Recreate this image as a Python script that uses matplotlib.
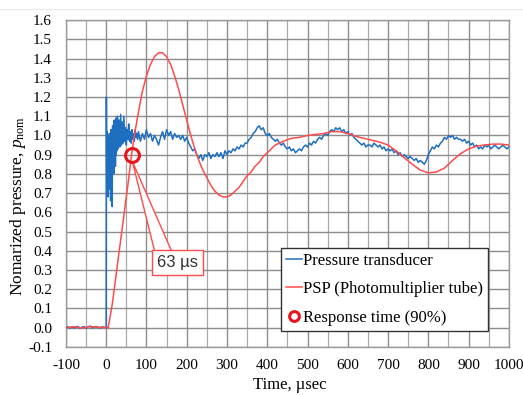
import numpy as np
import matplotlib
matplotlib.use('Agg')
import matplotlib.pyplot as plt
from matplotlib.lines import Line2D
from matplotlib.patches import Polygon

plt.rcParams['font.family'] = ['Liberation Serif', 'DejaVu Serif']
plt.rcParams['mathtext.fontset'] = 'custom'
plt.rcParams['mathtext.rm'] = 'Liberation Serif'
plt.rcParams['mathtext.it'] = 'Liberation Serif:italic'
plt.rcParams['axes.unicode_minus'] = False

# 压力传感器 (时间 µs, 归一化压力)
t_pre = [-100, -95, -90, -85, -80, -75, -70, -65, -60, -55, -50, -45, -40, -35, -30,
         -25, -20, -15, -10, -5, 0]
p_pre = [0.00, 0.005, -0.003, 0.004, -0.002, 0.003, 0.006, -0.004, 0.002, 0.005, -0.003,
         0.004, 0.008, -0.002, 0.003, 0.006, 0.001, -0.002, 0.004, 0.002, 0.0]
t_early = [0.5, 1, 1.5, 2, 3, 4, 5, 6, 7, 8, 9, 10, 11, 12, 13, 14, 15, 16, 17, 18, 19,
           20, 21, 22, 23, 24, 25, 26, 27, 28, 29, 30, 32, 34, 36, 38, 40, 42, 44, 46,
           48, 50, 52, 54, 56, 58, 60, 62, 64, 66, 68, 70, 72, 74, 76, 78]
p_early = [1.20, 0.95, 0.70, 1.02, 0.75, 1.00, 0.68, 0.95, 0.72, 1.01, 0.80, 0.98, 0.66,
           1.03, 0.75, 0.95, 0.63, 1.05, 0.85, 1.02, 0.80, 1.08, 0.88, 1.05, 0.84, 1.09,
           0.90, 1.06, 0.92, 1.10, 0.93, 1.04, 1.08, 0.94, 1.11, 0.95, 1.07, 0.96, 1.10,
           0.97, 1.04, 0.95, 1.03, 0.98, 1.06, 0.97, 1.02, 0.96, 1.03, 0.98, 1.01, 0.97,
           1.03, 0.99, 1.01, 0.98]
t_late = np.arange(80, 1001, 5)
p_late = [1.02, 0.97, 1.01, 0.98, 1.03, 0.99, 1.01, 0.97, 1.00, 0.98,
          0.95, 0.99, 1.02, 0.98, 1.03, 1.00, 1.02, 0.98, 1.01, 0.99,
          1.00, 0.98, 1.00, 0.97, 0.99, 0.96, 0.94, 0.92, 0.93, 0.90,
          0.88, 0.90, 0.87, 0.90, 0.89, 0.91, 0.88, 0.90, 0.89, 0.91,
          0.89, 0.91, 0.88, 0.92, 0.90, 0.92, 0.91, 0.93, 0.92, 0.94,
          0.93, 0.95, 0.94, 0.96, 0.96, 0.98, 0.99, 1.01, 1.02, 1.04,
          1.05, 1.03, 1.04, 1.01, 1.00, 1.01, 0.99, 0.98, 0.97, 0.98,
          0.96, 0.95, 0.96, 0.94, 0.93, 0.94, 0.92, 0.93, 0.91, 0.92,
          0.93, 0.92, 0.94, 0.95, 0.94, 0.96, 0.95, 0.97, 0.96, 0.98,
          0.99, 0.98, 1.00, 1.01, 1.00, 1.02, 1.03, 1.02, 1.04, 1.03,
          1.04, 1.02, 1.03, 1.01, 1.02, 1.00, 1.01, 0.99, 0.98, 0.97,
          0.96, 0.95, 0.96, 0.94, 0.95, 0.95, 0.94, 0.96, 0.95, 0.94,
          0.95, 0.93, 0.94, 0.92, 0.93, 0.92, 0.93, 0.91, 0.92, 0.90,
          0.91, 0.89, 0.90, 0.89, 0.88, 0.89, 0.88, 0.87, 0.88, 0.86,
          0.87, 0.86, 0.85, 0.87, 0.90, 0.92, 0.94, 0.93, 0.95, 0.94,
          0.96, 0.97, 0.99, 0.98, 1.00, 0.99, 1.00, 0.98, 0.99, 0.98,
          0.98, 0.97, 0.98, 0.96, 0.97, 0.95, 0.96, 0.94, 0.95, 0.93,
          0.94, 0.93, 0.95, 0.94, 0.95, 0.93, 0.94, 0.95, 0.94, 0.93,
          0.94, 0.95, 0.94, 0.93, 0.94]

# PSP (光电倍增管)
t_psp = [-100, -80, -60, -40, -20, 0, 5, 15, 25, 35, 45, 55, 63, 70, 80, 90, 100, 110,
         120, 130, 140, 150, 160, 170, 180, 190, 200, 210, 220, 230, 240, 250, 260, 270,
         280, 290, 300, 310, 320, 330, 340, 350, 360, 370, 380, 390, 400, 420, 440, 460,
         480, 500, 520, 540, 560, 580, 600, 620, 640, 660, 680, 700, 720, 740, 760, 780,
         800, 820, 840, 860, 880, 900, 920, 940, 960, 980, 1000]
p_psp = [0.0, 0.004, -0.002, 0.005, 0.002, 0.0, 0.0, 0.12, 0.28, 0.44, 0.60, 0.76, 0.90,
         1.00, 1.12, 1.23, 1.31, 1.37, 1.41, 1.43, 1.43, 1.41, 1.37, 1.31, 1.24, 1.16,
         1.08, 1.00, 0.93, 0.87, 0.82, 0.78, 0.74, 0.71, 0.69, 0.68, 0.68, 0.69, 0.71,
         0.73, 0.76, 0.79, 0.81, 0.84, 0.86, 0.89, 0.91, 0.95, 0.97, 0.985, 0.99, 1.00,
         1.005, 1.01, 1.02, 1.02, 1.01, 0.995, 0.985, 0.975, 0.965, 0.95, 0.92, 0.885,
         0.85, 0.82, 0.805, 0.81, 0.83, 0.87, 0.905, 0.93, 0.945, 0.95, 0.955, 0.955, 0.95]

# 响应时间 (90%)
t_resp = 63
p_resp = 0.9

blue = '#1f6fc0'
red = '#ff4b4b'

fig = plt.figure(figsize=(5.23, 3.95), dpi=100)
ax = fig.add_axes([0.126, 0.122, 0.847, 0.827])

t_pt = list(t_pre) + list(t_early) + list(t_late)
p_pt = list(p_pre) + list(p_early) + list(p_late)
ax.plot(t_pt, p_pt, color=blue, lw=1.1, label='Pressure transducer', zorder=3)
ax.plot(t_psp, p_psp, color=red, lw=1.1, label='PSP (Photomultiplier tube)', zorder=4)
ax.plot([t_resp], [p_resp], 'o', ms=10, mfc='none', mec='#e8141b', mew=2.2,
        label='Response time (90%)', zorder=6)

# 标注框
wedge = Polygon([(t_resp + 2, p_resp - 0.035), (120, 0.40), (162, 0.40)],
                closed=True, fc='white', ec=red, lw=1.0, zorder=5)
ax.add_patch(wedge)
ax.text(177, 0.34, '63 µs', family=['Liberation Sans', 'DejaVu Sans'], fontsize=12,
        ha='center', va='center', color='#333333', zorder=7,
        bbox=dict(boxstyle='square,pad=0.3', fc='white', ec=red, lw=1.0))

ax.set_xlim(-100, 1000)
ax.set_ylim(-0.1, 1.6)
ax.set_xticks(np.arange(-100, 1001, 100))
ax.set_xticks(np.arange(-50, 1000, 100), minor=True)
ax.set_yticks(np.round(np.arange(-0.1, 1.61, 0.1), 1))
ax.set_yticklabels(['%.1f' % v for v in np.arange(-0.1, 1.61, 0.1)])
ax.grid(which='major', color='#8c8c8c', lw=1.0, zorder=0)
ax.grid(which='minor', axis='x', color='#a8a8a8', lw=0.9, zorder=0)
ax.tick_params(which='both', length=0, labelsize=11)
ax.tick_params(axis='x', pad=9)
ax.tick_params(axis='y', pad=10)
for s in ax.spines.values():
    s.set_color('#9a9a9a')
    s.set_linewidth(1.0)

ax.set_xlabel('Time, µsec', fontsize=12)
ax.set_ylabel(r'Nomarized pressure, $p_\mathrm{nom}$', fontsize=12.5)
ax.xaxis.set_label_coords(0.505, -0.093)
ax.yaxis.set_label_coords(-0.086, 0.43)

leg = ax.legend(loc='lower right', bbox_to_anchor=(0.953, 0.049), fontsize=12,
                handlelength=1.0, handletextpad=0.05, borderpad=0.3, labelspacing=0.75,
                markerscale=0.7, fancybox=False, framealpha=1, edgecolor='#333333',
                borderaxespad=0)
leg.get_frame().set_linewidth(1.0)
leg.set_zorder(8)

# 顶部细线
fig.add_artist(Line2D([0, 1], [0.977, 0.977], color='#ececec', lw=1))

fig.savefig('out.png', dpi=100, facecolor='white')
